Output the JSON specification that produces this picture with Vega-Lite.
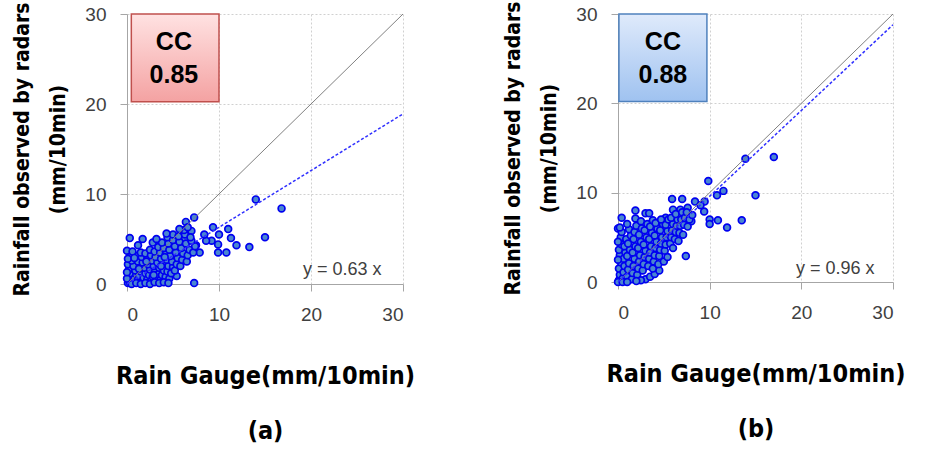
{
  "$schema": "https://vega.github.io/schema/vega-lite/v6.json",
  "background": "white",
  "padding": {"left": 11, "top": 0, "right": 5, "bottom": 5},
  "spacing": 87,
  "datasets": {
    "pa": [
      {"g":14.0,"r":9.4},{"g":16.8,"r":8.4},{"g":15.0,"r":5.2},{"g":13.3,"r":4.1},{"g":11.9,"r":4.3},{"g":11.3,"r":5.1},{"g":11.0,"r":6.1},{"g":10.8,"r":3.5},{"g":9.9,"r":3.5},{"g":9.35,"r":6.3},{"g":10.0,"r":5.5},{"g":9.9,"r":4.4},{"g":9.2,"r":4.8},{"g":8.6,"r":4.8},{"g":8.4,"r":5.5},{"g":7.3,"r":7.4},{"g":7.3,"r":0.1},{"g":6.4,"r":6.9},{"g":5.4,"r":0.9},{"g":0.3,"r":5.1},{"g":0.0,"r":3.7},{"g":1.7,"r":5.0},{"g":7.5,"r":4.3},{"g":7.9,"r":3.5},{"g":7.0,"r":5.9},{"g":6.3,"r":5.0},
      {"g":0.1,"r":0.1},{"g":0.2,"r":0.5},{"g":0.3,"r":0.2},{"g":0.5,"r":0.8},{"g":0.4,"r":1.2},{"g":0.2,"r":1.6},{"g":0.1,"r":2.2},{"g":0.6,"r":0.3},{"g":0.8,"r":0.6},{"g":1.0,"r":1.0},{"g":0.9,"r":1.5},{"g":0.7,"r":2.0},{"g":0.5,"r":2.6},{"g":0.3,"r":3.0},{"g":1.2,"r":0.4},{"g":1.3,"r":0.9},{"g":1.5,"r":1.4},{"g":1.4,"r":2.0},{"g":1.2,"r":2.5},{"g":1.0,"r":3.1},{"g":1.6,"r":0.2},{"g":1.8,"r":0.7},{"g":2.0,"r":1.2},{"g":1.9,"r":1.8},{"g":1.7,"r":2.4},{"g":1.6,"r":3.0},{"g":1.5,"r":3.5},{"g":2.2,"r":0.5},{"g":2.4,"r":1.0},{"g":2.5,"r":1.6},{"g":2.3,"r":2.2},{"g":2.2,"r":2.8},{"g":2.0,"r":3.4},{"g":2.6,"r":0.3},{"g":2.8,"r":0.8},{"g":3.0,"r":1.3},{"g":2.9,"r":2.0},{"g":2.7,"r":2.6},{"g":2.6,"r":3.2},{"g":2.5,"r":3.8},{"g":3.2,"r":0.6},{"g":3.4,"r":1.1},{"g":3.5,"r":1.8},{"g":3.3,"r":2.4},{"g":3.1,"r":3.0},{"g":3.0,"r":3.6},{"g":3.6,"r":0.4},{"g":3.8,"r":1.0},{"g":4.0,"r":1.5},{"g":3.9,"r":2.2},{"g":3.7,"r":2.8},{"g":3.6,"r":3.5},{"g":3.4,"r":4.1},{"g":4.2,"r":0.8},{"g":4.4,"r":1.4},{"g":4.5,"r":2.0},{"g":4.3,"r":2.7},{"g":4.2,"r":3.3},{"g":4.0,"r":4.0},{"g":3.8,"r":4.6},{"g":4.6,"r":0.6},{"g":4.8,"r":1.2},{"g":5.0,"r":1.9},{"g":4.9,"r":2.5},{"g":4.7,"r":3.1},{"g":4.6,"r":3.8},{"g":4.5,"r":4.5},{"g":4.4,"r":5.2},{"g":5.2,"r":1.5},{"g":5.4,"r":2.2},{"g":5.5,"r":2.9},{"g":5.3,"r":3.5},{"g":5.2,"r":4.2},{"g":5.0,"r":4.9},{"g":5.0,"r":5.5},{"g":5.8,"r":2.0},{"g":6.0,"r":2.7},{"g":6.1,"r":3.4},{"g":5.9,"r":4.0},{"g":5.7,"r":4.7},{"g":5.6,"r":5.3},{"g":6.5,"r":2.5},{"g":6.6,"r":3.2},{"g":6.8,"r":3.8},{"g":6.4,"r":4.5},{"g":6.3,"r":5.5},{"g":6.2,"r":6.0},{"g":6.6,"r":6.3},{"g":7.2,"r":3.5},{"g":7.4,"r":4.2},{"g":7.0,"r":4.8},{"g":6.9,"r":5.2},{"g":5.7,"r":6.1},{"g":4.3,"r":5.6},{"g":2.8,"r":4.6},{"g":3.2,"r":5.0},{"g":1.2,"r":4.3},{"g":0.6,"r":3.6},{"g":0.5,"r":0.0},{"g":1.0,"r":0.1},{"g":1.5,"r":0.0},{"g":2.0,"r":0.1},{"g":2.5,"r":0.0},{"g":3.0,"r":0.2},{"g":3.5,"r":0.1},{"g":4.0,"r":0.2},{"g":4.5,"r":0.1},{"g":0.0,"r":0.6},{"g":0.0,"r":1.3},{"g":0.1,"r":2.8},{"g":0.8,"r":2.9},{"g":1.3,"r":1.7},{"g":2.1,"r":2.5},{"g":2.9,"r":1.0},{"g":3.7,"r":2.0},{"g":4.1,"r":3.0}
    ],
    "pb": [
      {"g":13.9,"r":13.8},{"g":17.0,"r":14.0},{"g":9.85,"r":11.3},{"g":11.5,"r":10.2},{"g":10.8,"r":9.7},{"g":15.0,"r":9.7},{"g":9.45,"r":9.0},{"g":8.4,"r":9.0},{"g":7.0,"r":9.3},{"g":5.9,"r":9.3},{"g":9.4,"r":7.9},{"g":10.0,"r":7.0},{"g":10.0,"r":6.5},{"g":10.9,"r":6.9},{"g":11.9,"r":6.1},{"g":13.5,"r":6.9},{"g":8.0,"r":6.8},{"g":7.4,"r":2.9},{"g":0.0,"r":6.0},{"g":0.4,"r":7.2},{"g":1.9,"r":8.0},{"g":3.0,"r":7.7},{"g":3.4,"r":7.7},{"g":1.9,"r":7.1},{"g":5.2,"r":7.2},{"g":6.0,"r":8.1},{"g":6.8,"r":8.1},{"g":7.6,"r":8.3},{"g":9.0,"r":8.6},
      {"g":0.1,"r":0.2},{"g":0.2,"r":0.8},{"g":0.1,"r":1.5},{"g":0.3,"r":2.2},{"g":0.2,"r":3.0},{"g":0.1,"r":3.6},{"g":0.4,"r":4.2},{"g":0.3,"r":5.0},{"g":0.5,"r":0.4},{"g":0.6,"r":1.1},{"g":0.7,"r":1.8},{"g":0.6,"r":2.6},{"g":0.8,"r":3.3},{"g":0.7,"r":4.0},{"g":0.9,"r":4.8},{"g":1.0,"r":0.6},{"g":1.1,"r":1.4},{"g":1.2,"r":2.1},{"g":1.0,"r":2.9},{"g":1.3,"r":3.6},{"g":1.1,"r":4.3},{"g":1.4,"r":5.2},{"g":1.2,"r":5.9},{"g":1.5,"r":0.3},{"g":1.6,"r":1.0},{"g":1.7,"r":1.8},{"g":1.8,"r":2.6},{"g":1.6,"r":3.3},{"g":1.9,"r":4.0},{"g":1.7,"r":4.8},{"g":1.8,"r":5.6},{"g":2.0,"r":6.3},{"g":2.1,"r":0.8},{"g":2.2,"r":1.5},{"g":2.3,"r":2.3},{"g":2.4,"r":3.0},{"g":2.2,"r":3.8},{"g":2.5,"r":4.5},{"g":2.3,"r":5.3},{"g":2.6,"r":6.0},{"g":2.5,"r":6.8},{"g":2.7,"r":1.3},{"g":2.8,"r":2.0},{"g":2.9,"r":2.8},{"g":3.0,"r":3.5},{"g":2.8,"r":4.2},{"g":3.1,"r":5.0},{"g":2.9,"r":5.8},{"g":3.2,"r":6.5},{"g":3.3,"r":1.8},{"g":3.4,"r":2.6},{"g":3.5,"r":3.3},{"g":3.6,"r":4.0},{"g":3.4,"r":4.8},{"g":3.7,"r":5.5},{"g":3.5,"r":6.2},{"g":3.8,"r":6.9},{"g":3.9,"r":2.3},{"g":4.0,"r":3.0},{"g":4.1,"r":3.8},{"g":4.2,"r":4.5},{"g":4.0,"r":5.2},{"g":4.3,"r":6.0},{"g":4.1,"r":6.6},{"g":4.5,"r":2.9},{"g":4.6,"r":3.6},{"g":4.7,"r":4.3},{"g":4.8,"r":5.0},{"g":4.6,"r":5.8},{"g":4.9,"r":6.5},{"g":4.7,"r":7.0},{"g":5.1,"r":3.5},{"g":5.2,"r":4.2},{"g":5.3,"r":5.0},{"g":5.4,"r":5.7},{"g":5.2,"r":6.4},{"g":5.5,"r":7.0},{"g":5.7,"r":4.3},{"g":5.8,"r":5.0},{"g":5.9,"r":5.8},{"g":6.0,"r":6.5},{"g":5.8,"r":7.2},{"g":6.2,"r":4.8},{"g":6.3,"r":5.6},{"g":6.4,"r":6.3},{"g":6.5,"r":7.0},{"g":6.3,"r":7.6},{"g":6.7,"r":5.5},{"g":6.8,"r":6.3},{"g":6.9,"r":7.0},{"g":7.0,"r":7.8},{"g":7.2,"r":6.4},{"g":7.3,"r":7.2},{"g":7.5,"r":7.8},{"g":7.8,"r":7.0},{"g":8.1,"r":7.5},{"g":0.4,"r":5.6},{"g":0.0,"r":4.5},{"g":0.2,"r":6.1},{"g":1.0,"r":6.5},
      {"g":3.0,"r":0.3},{"g":3.5,"r":0.6},{"g":4.0,"r":0.9},{"g":4.5,"r":1.3},{"g":2.5,"r":0.2},{"g":2.0,"r":0.1},{"g":3.8,"r":1.5},{"g":4.4,"r":2.0},{"g":5.0,"r":2.3},{"g":5.4,"r":2.8},{"g":6.0,"r":3.8},{"g":6.6,"r":4.6},{"g":7.1,"r":5.3},{"g":7.6,"r":6.2},{"g":0.0,"r":0.0},{"g":0.5,"r":0.0},{"g":1.0,"r":0.0},{"g":0.0,"r":2.5}
    ],
    "diag": [{"x":0,"y":0},{"x":30,"y":30}],
    "rega": [{"x":0,"y":0},{"x":30,"y":18.9}],
    "regb": [{"x":0,"y":0},{"x":30,"y":28.8}],
    "boxa": [{"x":0.47,"x2":10.0,"y":20.26,"y2":30}],
    "boxb": [{"x":0.1,"x2":9.7,"y":20.2,"y2":30}],
    "txta": [{"x":5.1,"y":26.9,"t":"CC"},{"x":5.1,"y":23.2,"t":"0.85"}],
    "txtb": [{"x":4.9,"y":26.9,"t":"CC"},{"x":4.9,"y":23.2,"t":"0.88"}],
    "eqa": [{"x":23.4,"y":1.6,"t":"y = 0.63 x"}],
    "eqb": [{"x":23.7,"y":1.45,"t":"y = 0.96 x"}]
  },
  "hconcat": [
    {
      "width": 276, "height": 270,
      "layer": [
        {
          "data": {"name": "pa"},
          "mark": {"type": "point", "shape": "circle", "filled": true, "fill": "#4a86d0", "stroke": "#0000f0", "strokeWidth": 1.7, "size": 46, "opacity": 1},
          "encoding": {
            "x": {"field": "g", "type": "quantitative", "scale": {"domain": [0, 30], "nice": false}, "axis": {"values": [0, 10, 20, 30], "title": ["Rain Gauge(mm/10min)", "(a)"]}},
            "y": {"field": "r", "type": "quantitative", "scale": {"domain": [0, 30], "nice": false}, "axis": {"values": [0, 10, 20, 30], "title": ["Rainfall observed by radars", "(mm/10min)"]}}
          }
        },
        {
          "data": {"name": "diag"},
          "mark": {"type": "line", "color": "#808080", "strokeWidth": 1},
          "encoding": {"x": {"field": "x", "type": "quantitative"}, "y": {"field": "y", "type": "quantitative"}}
        },
        {
          "data": {"name": "rega"},
          "mark": {"type": "line", "color": "#3030ff", "strokeWidth": 1.5, "strokeDash": [3, 2]},
          "encoding": {"x": {"field": "x", "type": "quantitative"}, "y": {"field": "y", "type": "quantitative"}}
        },
        {
          "data": {"name": "boxa"},
          "mark": {"type": "rect", "stroke": "#c0504d", "strokeWidth": 1.5, "fill": {"gradient": "linear", "x1": 0, "y1": 0, "x2": 0, "y2": 1, "stops": [{"offset": 0, "color": "#ffe2e2"}, {"offset": 1, "color": "#f4a2a2"}]}},
          "encoding": {"x": {"field": "x", "type": "quantitative"}, "x2": {"field": "x2"}, "y": {"field": "y", "type": "quantitative"}, "y2": {"field": "y2"}}
        },
        {
          "data": {"name": "txta"},
          "mark": {"type": "text", "font": "Liberation Sans", "fontWeight": "bold", "fontSize": 25, "color": "#000000"},
          "encoding": {"x": {"field": "x", "type": "quantitative"}, "y": {"field": "y", "type": "quantitative"}, "text": {"field": "t"}}
        },
        {
          "data": {"name": "eqa"},
          "mark": {"type": "text", "font": "Liberation Sans", "fontSize": 18, "color": "#404040"},
          "encoding": {"x": {"field": "x", "type": "quantitative"}, "y": {"field": "y", "type": "quantitative"}, "text": {"field": "t"}}
        }
      ]
    },
    {
      "width": 275, "height": 268,
      "layer": [
        {
          "data": {"name": "pb"},
          "mark": {"type": "point", "shape": "circle", "filled": true, "fill": "#4a86d0", "stroke": "#0000f0", "strokeWidth": 1.7, "size": 46, "opacity": 1},
          "encoding": {
            "x": {"field": "g", "type": "quantitative", "scale": {"domain": [0, 30], "nice": false}, "axis": {"values": [0, 10, 20, 30], "title": ["Rain Gauge(mm/10min)", "(b)"]}},
            "y": {"field": "r", "type": "quantitative", "scale": {"domain": [0, 30], "nice": false}, "axis": {"values": [0, 10, 20, 30], "title": ["Rainfall observed by radars", "(mm/10min)"]}}
          }
        },
        {
          "data": {"name": "diag"},
          "mark": {"type": "line", "color": "#808080", "strokeWidth": 1},
          "encoding": {"x": {"field": "x", "type": "quantitative"}, "y": {"field": "y", "type": "quantitative"}}
        },
        {
          "data": {"name": "regb"},
          "mark": {"type": "line", "color": "#3030ff", "strokeWidth": 1.5, "strokeDash": [3, 2]},
          "encoding": {"x": {"field": "x", "type": "quantitative"}, "y": {"field": "y", "type": "quantitative"}}
        },
        {
          "data": {"name": "boxb"},
          "mark": {"type": "rect", "stroke": "#4f81bd", "strokeWidth": 1.5, "fill": {"gradient": "linear", "x1": 0, "y1": 0, "x2": 0, "y2": 1, "stops": [{"offset": 0, "color": "#dfeafb"}, {"offset": 1, "color": "#9fc2f0"}]}},
          "encoding": {"x": {"field": "x", "type": "quantitative"}, "x2": {"field": "x2"}, "y": {"field": "y", "type": "quantitative"}, "y2": {"field": "y2"}}
        },
        {
          "data": {"name": "txtb"},
          "mark": {"type": "text", "font": "Liberation Sans", "fontWeight": "bold", "fontSize": 25, "color": "#000000"},
          "encoding": {"x": {"field": "x", "type": "quantitative"}, "y": {"field": "y", "type": "quantitative"}, "text": {"field": "t"}}
        },
        {
          "data": {"name": "eqb"},
          "mark": {"type": "text", "font": "Liberation Sans", "fontSize": 18, "color": "#404040"},
          "encoding": {"x": {"field": "x", "type": "quantitative"}, "y": {"field": "y", "type": "quantitative"}, "text": {"field": "t"}}
        }
      ]
    }
  ],
  "config": {
    "view": {"stroke": null},
    "axis": {
      "grid": true, "gridColor": "#d0d0d0", "gridDash": [2, 2], "gridWidth": 1,
      "domainColor": "#a6a6a6", "tickColor": "#a6a6a6", "tickSize": 7,
      "labelFont": "Liberation Sans", "labelFontSize": 19, "labelColor": "#404040", "labelPadding": 14,
      "titleFont": "DejaVu Sans Condensed, Roboto", "titleFontSize": 25, "titleFontWeight": "bold", "titleColor": "#000000"
    },
    "axisX": {"titleLineHeight": 55, "titlePadding": 39},
    "axisY": {"titleLineHeight": 36, "titlePadding": 16, "titleFontSize": 21}
  }
}
